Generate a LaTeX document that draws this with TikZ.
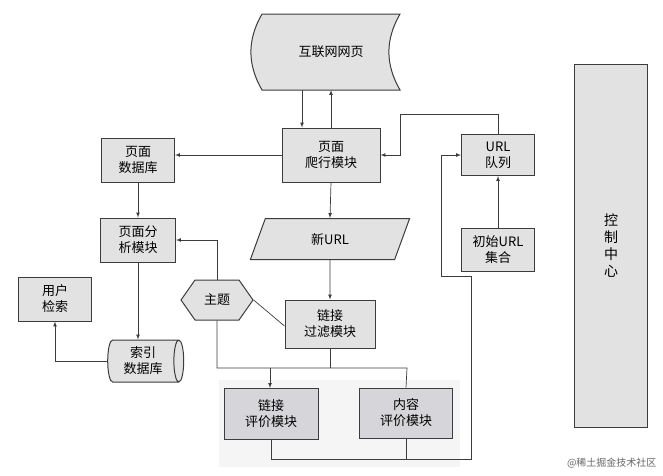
\documentclass[tikz,border=0pt]{standalone}
\usepackage{fontspec}
\newfontfamily\cjk{Noto Sans CJK SC}
\usetikzlibrary{arrows,shapes.geometric,shapes.symbols}
\definecolor{boxgray}{RGB}{226,226,226}
\definecolor{evalgray}{RGB}{214,214,218}
\definecolor{edgegray}{RGB}{60,60,60}
\begin{document}
\begin{tikzpicture}[x=1pt,y=-1pt,>=latex,
		box/.style={draw=edgegray,fill=boxgray,line width=1pt,inner sep=0pt,align=center,font=\cjk\fontsize{13}{16}\selectfont},
		link/.style={draw=edgegray,line width=0.7pt}]
	\useasboundingbox (0,0) rectangle (663,475);
	\fill[white] (0,0) rectangle (663,475);
	\fill[black!4] (219,380) rectangle (460,467);

	% nodes
	\node[box,draw=none,fill=none,minimum width=137,minimum height=75] (web) at (331,52) {互联网网页};
	\filldraw[draw=edgegray,fill=boxgray,line width=1pt] (web.north west) -- (web.north east)
		to[out=-120,in=120] (web.south east) -- (web.south west) to[out=120,in=-120] (web.north west);
	\node[box,draw=none,fill=none] at (web) {互联网网页};
	\node[box,minimum width=98,minimum height=54] (crawl) at (331,155) {页面\\爬行模块};
	\node[box,minimum width=73,minimum height=44] (pagedb) at (138,160) {页面\\数据库};
	\node[box,minimum width=73,minimum height=41] (queue) at (498,155) {URL\\队列};
	\node[box,minimum width=73,minimum height=43] (seed) at (498,250) {初始URL\\集合};
	\node[box,minimum width=73,minimum height=363,font=\cjk\fontsize{14}{17}\selectfont] (ctrl) at (611,246) {控\\制\\中\\心};
	\node[box,minimum width=75,minimum height=44] (analyse) at (138,240) {页面分\\析模块};
	\node[box,trapezium,trapezium left angle=70,trapezium right angle=110,minimum width=78,minimum height=41] (newurl) at (330,239) {新URL};
	\node[box,minimum width=73,minimum height=44] (user) at (55,299) {用户\\检索};
	\node[box,signal,signal to=east and west,signal pointer angle=110,minimum width=72,minimum height=40] (topic) at (217,300) {主题};
	\node[box,minimum width=90,minimum height=48] (filter) at (330,324) {链接\\过滤模块};
	\node[box,cylinder,aspect=0.35,minimum width=42,minimum height=76] (index) at (143,361) {索引\\数据库};
	\node[box,fill=evalgray,minimum width=94,minimum height=51] (linkeval) at (271,414) {链接\\评价模块};
	\node[box,fill=evalgray,minimum width=93,minimum height=50] (texteval) at (406,413) {内容\\评价模块};
	\node[font=\cjk\fontsize{10}{12}\selectfont,text=black!60,anchor=east] (mark) at (660,463) {@稀土掘金技术社区};

	% connectors
	\draw[link,->] ([xshift=-29]web.south) -- ([xshift=-29]crawl.north);
	\draw[link,->] (crawl.north) -- (web.south);
	\draw[link,->] (crawl.west) -- (crawl.west -| pagedb.east);
	\draw[link,->] (queue.north) |- (400,114) |- (crawl.east);
	\draw[link,->] (seed.north) -- (queue.south);
	\draw[link,->] (crawl.south) -- (newurl.north);
	\draw[link,->] (newurl.south) -- (filter.north);
	\draw[link,->] (pagedb.south) -- (analyse.north);
	\draw[link,->] (topic.north) |- (analyse.east);
	\draw[link] (topic.east) -- ([yshift=-2]filter.west);
	\draw[link,->] (analyse.south) -- (analyse.south |- index.north);
	\draw[link,->] (index.west) -| (user.south);
	\draw[link] (topic.south) |- (407,368) -- (texteval.north);
	\draw[link] (filter.south) -- (filter.south |- 0,368);
	\draw[link,->] (270,368) -- (linkeval.north -| 270,0);
	\draw[link,->] (linkeval.south) |- (471,459) |- (441,276) |- (queue.west);
	\draw[link] (texteval.south) -- (texteval.south |- 0,459);
\end{tikzpicture}
\end{document}
